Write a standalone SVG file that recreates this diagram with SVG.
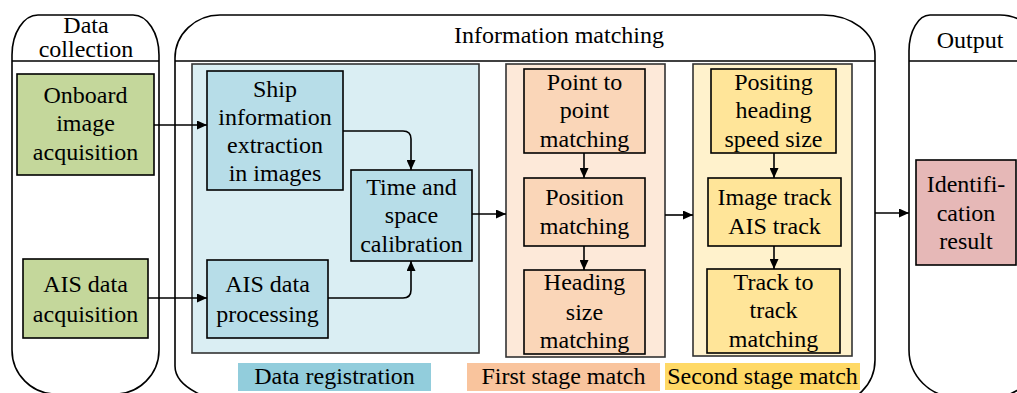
<svg xmlns="http://www.w3.org/2000/svg" width="1017" height="393" viewBox="0 0 1017 393" font-family="'Liberation Serif', 'DejaVu Serif', serif">
<defs>
<style>
text{font-family:'Liberation Serif','DejaVu Serif',serif;font-size:24px;fill:#000;text-anchor:middle}
.cont{fill:#fff;stroke:#000;stroke-width:1.6}
.div{stroke:#000;stroke-width:1.6;fill:none}
.region{stroke:#333;stroke-width:1.6}
.node{stroke:#000;stroke-width:1.6}
.green{fill:#c4d79b}
.blue{fill:#b7dde8}
.orange{fill:#fad6b8}
.yellow{fill:#ffe599}
.pink{fill:#e6b8b7}
.conn path{fill:none;stroke:#000;stroke-width:1.6;marker-end:url(#arr)}
</style>
<marker id="arr" markerUnits="userSpaceOnUse" markerWidth="10" markerHeight="9" refX="10" refY="4.5" orient="auto">
<path d="M0,0 L10,4.5 L0,9 Z" fill="#000"/>
</marker>
</defs>
<rect width="1017" height="393" fill="#fff"/>

<g id="data-collection">
<path class="cont" d="M12,55 A26,40 0 0 1 38,15 H133 A26,40 0 0 1 159,55 V350 A44,44 0 0 1 115,394 H56 A44,44 0 0 1 12,350 Z"/>
<line class="div" x1="12" y1="61" x2="159" y2="61"/>
<text x="86" y="33">Data</text>
<text x="86" y="57">collection</text>
</g>

<g id="information-matching">
<path class="cont" d="M175,58 A45,43 0 0 1 220,15 H823 A52,40 0 0 1 875,55 V360 A44,44 0 0 1 831,404 H250 A75,38 0 0 1 175,366 Z"/>
<line class="div" x1="175" y1="61" x2="875" y2="61"/>
<text x="559" y="43">Information matching</text>
</g>

<g id="output">
<path class="cont" d="M909,51 A21,36 0 0 1 930,15 H1000 A40,38 0 0 1 1040,53 V350 A47,47 0 0 1 993,397 H956 A47,47 0 0 1 909,350 Z"/>
<line class="div" x1="909" y1="61" x2="1017" y2="61"/>
<text x="970" y="48">Output</text>
</g>

<g id="region-data-registration">
<rect class="region" x="192" y="64" width="287" height="289" fill="#daeef3"/>
</g>
<g id="region-first-stage">
<rect class="region" x="506" y="64" width="159" height="293" fill="#fde9d9"/>
</g>
<g id="region-second-stage">
<rect class="region" x="693" y="64" width="159" height="292" fill="#fff2cc"/>
</g>

<g id="onboard-image-acquisition">
<rect class="node green" x="17" y="74" width="137" height="101"/>
<text x="85.5" y="103">Onboard</text>
<text x="85.5" y="131">image</text>
<text x="85.5" y="160">acquisition</text>
</g>

<g id="ais-data-acquisition">
<rect class="node green" x="23" y="259" width="125" height="79"/>
<text x="85.5" y="292">AIS data</text>
<text x="85.5" y="322">acquisition</text>
</g>

<g id="ship-information-extraction">
<rect class="node blue" x="207" y="71" width="136" height="119"/>
<text x="275" y="97">Ship</text>
<text x="275" y="125">information</text>
<text x="275" y="153">extraction</text>
<text x="275" y="181">in images</text>
</g>

<g id="ais-data-processing">
<rect class="node blue" x="207" y="260" width="121" height="78"/>
<text x="267.5" y="292">AIS data</text>
<text x="267.5" y="322">processing</text>
</g>

<g id="time-space-calibration">
<rect class="node blue" x="351" y="170" width="121" height="91"/>
<text x="411.5" y="195">Time and</text>
<text x="411.5" y="223">space</text>
<text x="411.5" y="252">calibration</text>
</g>

<g id="point-to-point">
<rect class="node orange" x="524" y="69" width="121" height="84"/>
<text x="584.5" y="90">Point to</text>
<text x="584.5" y="118">point</text>
<text x="584.5" y="147">matching</text>
</g>

<g id="position-matching">
<rect class="node orange" x="524" y="178" width="121" height="68"/>
<text x="584.5" y="205">Position</text>
<text x="584.5" y="234">matching</text>
</g>

<g id="heading-size-matching">
<rect class="node orange" x="524" y="270" width="121" height="84"/>
<text x="584.5" y="290">Heading</text>
<text x="584.5" y="320">size</text>
<text x="584.5" y="348">matching</text>
</g>

<g id="positing-heading-speed-size">
<rect class="node yellow" x="711" y="69" width="125" height="84"/>
<text x="773.5" y="90">Positing</text>
<text x="773.5" y="118">heading</text>
<text x="773.5" y="147">speed size</text>
</g>

<g id="image-track-ais-track">
<rect class="node yellow" x="708" y="178" width="133" height="68"/>
<text x="774.5" y="205">Image track</text>
<text x="774.5" y="234">AIS track</text>
</g>

<g id="track-to-track-matching">
<rect class="node yellow" x="707" y="269" width="133" height="84"/>
<text x="773.5" y="290">Track to</text>
<text x="773.5" y="318">track</text>
<text x="773.5" y="347">matching</text>
</g>

<g id="identification-result">
<rect class="node pink" x="916" y="160" width="100" height="105"/>
<text x="966" y="192">Identifi-</text>
<text x="966" y="221">cation</text>
<text x="966" y="249">result</text>
</g>

<g id="legend">
<rect x="238" y="363" width="193" height="28" fill="#92cddc"/>
<text x="334.5" y="384">Data registration</text>
<rect x="467" y="363" width="193" height="28" fill="#f9c49d"/>
<text x="563.5" y="384">First stage match</text>
<rect x="665" y="363" width="195" height="27" fill="#ffd966"/>
<text x="762.5" y="384">Second stage match</text>
</g>

<g id="connectors" class="conn">
<path d="M154,125 H207"/>
<path d="M148,298 H207"/>
<path d="M343,131 H403 Q411,131 411,139 V170"/>
<path d="M328,298 H403 Q411,298 411,290 V261"/>
<path d="M472,214 H506"/>
<path d="M584,153 V178"/>
<path d="M584,246 V270"/>
<path d="M665,215 H693"/>
<path d="M774,153 V178"/>
<path d="M774,246 V269"/>
<path d="M875,213 H909"/>
</g>
</svg>
